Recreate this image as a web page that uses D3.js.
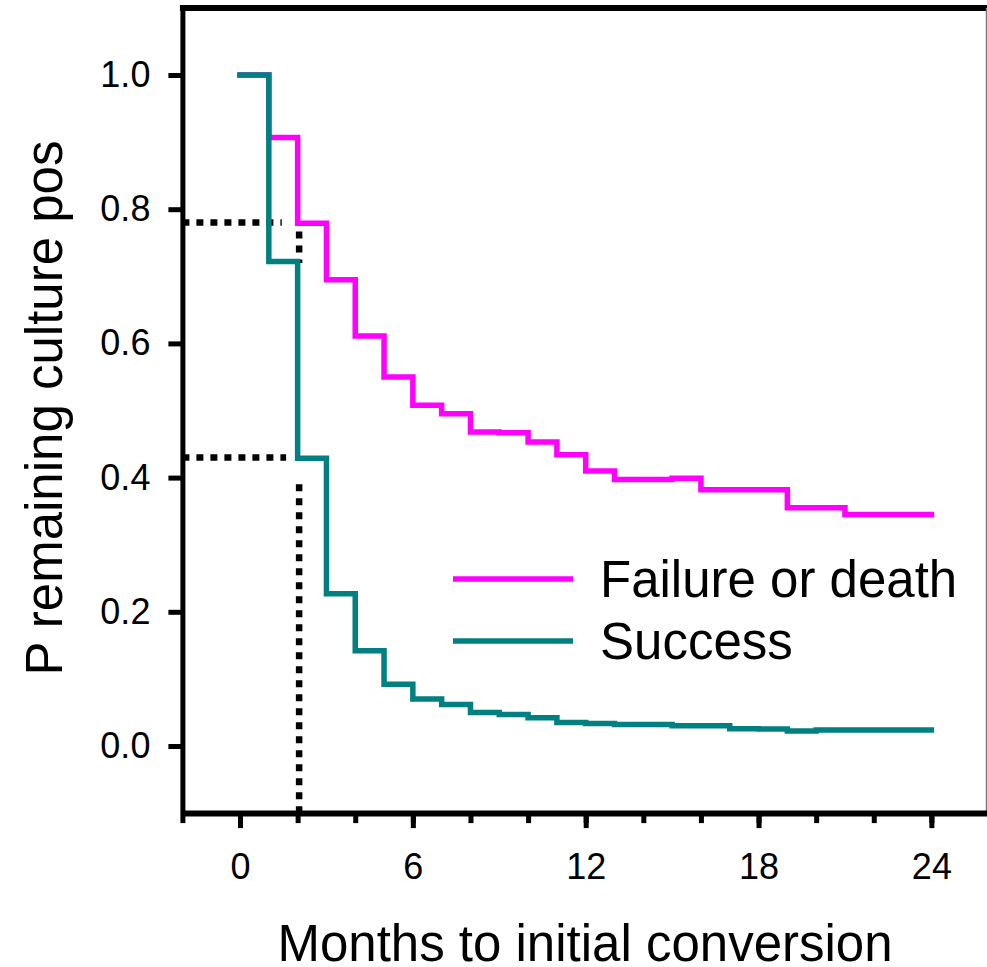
<!DOCTYPE html>
<html>
<head>
<meta charset="utf-8">
<script src="https://cdn.jsdelivr.net/npm/d3@7"></script>
<style>
  html, body { margin: 0; padding: 0; background: #fff; }
  svg { display: block; font-family: "Liberation Sans", Arial, sans-serif; }
</style>
</head>
<body>
<svg id="chart" width="987" height="967"></svg>
<script>
// Kaplan-Meier style step curves: proportion still culture positive by month
const months = d3.range(0, 25);
const failureOrDeath = [1.0, 0.907, 0.779, 0.695, 0.611, 0.550, 0.508, 0.495, 0.468, 0.467,
                        0.453, 0.434, 0.410, 0.397, 0.397, 0.399, 0.382, 0.382, 0.382, 0.355,
                        0.355, 0.345, 0.345, 0.345, 0.345];
const success = [1.0, 0.722, 0.429, 0.227, 0.142, 0.092, 0.070, 0.062, 0.050, 0.047,
                 0.042, 0.035, 0.0335, 0.032, 0.032, 0.030, 0.030, 0.0258, 0.0255, 0.0225,
                 0.024, 0.024, 0.024, 0.024, 0.024];
const seriesNames = ["Failure or death", "Success"];
const seriesColors = ["#ff00ff", "#008080"];

// Reference readings at two months
const refMonth = 2;
const refValues = [0.78, 0.43];

const yTickValues = [0.0, 0.2, 0.4, 0.6, 0.8, 1.0];
const xMajorTicks = [0, 6, 12, 18, 24];
const xMinorTicks = d3.range(-2, 27, 2);

const svg = d3.select("#chart");

const x = d3.scaleLinear().domain([-2, 26]).range([182.4, 989]);
const y = d3.scaleLinear().domain([-0.1, 1.1]).range([813.1, 7.9]);

// Reference dotted guides (drawn beneath the curves)
const guides = svg.append("g")
  .attr("fill", "none")
  .attr("stroke", "#000")
  .attr("stroke-width", 6.5)
  .attr("stroke-dasharray", "7,7");
guides.append("line")
  .attr("x1", x(-2)).attr("x2", x(1.45))
  .attr("y1", y(refValues[0])).attr("y2", y(refValues[0]));
guides.append("line")
  .attr("x1", x(-2)).attr("x2", x(1.6))
  .attr("y1", y(refValues[1])).attr("y2", y(refValues[1]));
guides.append("line")
  .attr("x1", x(refMonth) + 1.5).attr("x2", x(refMonth) + 1.5)
  .attr("y1", y(refValues[0]) + 9).attr("y2", y(0.72));
guides.append("line")
  .attr("x1", x(refMonth) + 1.5).attr("x2", x(refMonth) + 1.5)
  .attr("y1", y(0.39)).attr("y2", y(-0.1));

// Step curves
const stepLine = d3.line()
  .x(d => x(d[0]))
  .y(d => y(d[1]))
  .curve(d3.curveStepAfter);

[failureOrDeath, success].forEach((vals, i) => {
  svg.append("path")
    .datum(months.map((m, j) => [m, vals[j]]))
    .attr("fill", "none")
    .attr("stroke", seriesColors[i])
    .attr("stroke-width", 5.5)
    .attr("stroke-linejoin", "miter")
    .attr("stroke-linecap", "square")
    .attr("d", stepLine);
});

// Frame: top border and thin right edge
svg.append("line")
  .attr("x1", x(-2) - 2.5).attr("x2", 987)
  .attr("y1", y(1.1)).attr("y2", y(1.1))
  .attr("stroke", "#000").attr("stroke-width", 6);
svg.append("line")
  .attr("x1", 986.5).attr("x2", 986.5)
  .attr("y1", y(1.1)).attr("y2", y(-0.1))
  .attr("stroke", "#777").attr("stroke-width", 1.5);

// Y axis
const yAxis = svg.append("g")
  .attr("transform", `translate(${x(-2)},0)`)
  .call(d3.axisLeft(y).tickValues(yTickValues).tickFormat(d3.format(".1f"))
    .tickSize(14).tickSizeOuter(0).tickPadding(18));
yAxis.select(".domain").attr("stroke-width", 5);
yAxis.selectAll(".tick line").attr("stroke-width", 5);
yAxis.selectAll(".tick text")
  .attr("font-size", 36).attr("fill", "#000")
  .attr("font-family", "'Liberation Sans', Arial, sans-serif");

// X axis: minor ticks every 2 months, labelled majors every 6
const xMinor = svg.append("g")
  .attr("transform", `translate(0,${y(-0.1)})`)
  .call(d3.axisBottom(x).tickValues(xMinorTicks).tickFormat("").tickSize(10).tickSizeOuter(0));
xMinor.select(".domain").attr("stroke-width", 6);
xMinor.selectAll(".tick line").attr("stroke-width", 5);

const xMajor = svg.append("g")
  .attr("transform", `translate(0,${y(-0.1)})`)
  .call(d3.axisBottom(x).tickValues(xMajorTicks).tickFormat(d3.format("d")).tickSize(15).tickSizeOuter(0));
xMajor.select(".domain").remove();
xMajor.selectAll(".tick line").attr("stroke-width", 5);
xMajor.selectAll(".tick text")
  .attr("font-size", 36).attr("fill", "#000")
  .attr("font-family", "'Liberation Sans', Arial, sans-serif")
  .attr("y", 66).attr("dy", 0);

// Axis titles
svg.append("text")
  .attr("x", 585).attr("y", 961)
  .attr("text-anchor", "middle")
  .attr("font-size", 51)
  .text("Months to initial conversion");
svg.append("text")
  .attr("transform", "translate(62,408) rotate(-90)")
  .attr("text-anchor", "middle")
  .attr("font-size", 51)
  .text("P remaining culture pos");

// Legend
const legendY = [579, 641];
const legend = svg.append("g");
seriesNames.forEach((name, i) => {
  legend.append("line")
    .attr("x1", 453).attr("x2", 573)
    .attr("y1", legendY[i]).attr("y2", legendY[i])
    .attr("stroke", seriesColors[i]).attr("stroke-width", 5.5);
  legend.append("text")
    .attr("x", 600).attr("y", legendY[i] + 18)
    .attr("font-size", 51)
    .text(name);
});
</script>
</body>
</html>
